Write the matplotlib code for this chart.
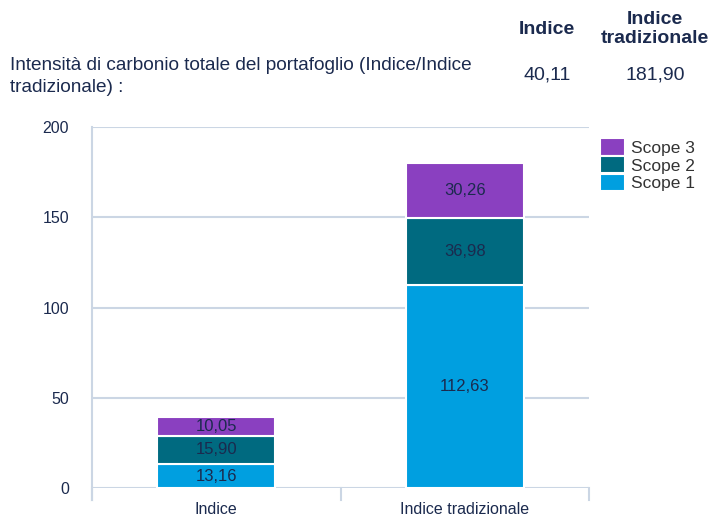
import matplotlib
matplotlib.use("Agg")
import matplotlib.pyplot as plt
from matplotlib.lines import Line2D
import matplotlib.transforms as mtransforms

categories = ["Indice", "Indice tradizionale"]
scope1 = [13.16, 112.63]
scope2 = [15.90, 36.98]
scope3 = [10.05, 30.26]
totals_text = ["40,11", "181,90"]
yticks = [0, 50, 100, 150, 200]

navy = "#1B2A4E"
c1 = "#009FE0"
c2 = "#006A80"
c3 = "#8A40C0"
grid_c = "#CBD6E4"

plt.rcParams['font.family'] = ['Liberation Sans', 'DejaVu Sans']

fig = plt.figure(figsize=(7.09, 5.17), dpi=100)
ax = fig.add_axes([92/709, 29/517, (589-92)/709, (488-127)/517])

x = [0, 1]
w = 0.475
series = [("Scope 1", scope1, c1), ("Scope 2", scope2, c2), ("Scope 3", scope3, c3)]
bottom = [0.0, 0.0]
handles = []
for name, vals, col in series:
    bars = ax.bar(x, vals, w, bottom=bottom, color=col, edgecolor="white",
                  linewidth=1.5, label=name, zorder=3)
    handles.append(bars)
    for xi, v, b in zip(x, vals, bottom):
        ax.text(xi, b + v/2, f"{v:.2f}".replace(".", ","), ha="center", va="center",
                fontsize=12, color=navy, zorder=4)
    bottom = [b + v for b, v in zip(bottom, vals)]

ax.set_xlim(-0.5, 1.5)
ax.set_ylim(0, 200)
ax.set_yticks(yticks)
ax.set_yticklabels([str(t) for t in yticks], fontsize=11.5, color=navy)
ax.yaxis.grid(True, color=grid_c, linewidth=1.5, zorder=0)
ax.set_xticks(x)
ax.set_xticklabels(categories, fontsize=11.5, color=navy)
ax.tick_params(axis="x", length=0, pad=10)
ax.tick_params(axis="y", length=0, pad=16.5)
for s in ax.spines.values():
    s.set_visible(False)

# axis line and category separators
trans = mtransforms.blended_transform_factory(ax.transData, ax.transAxes)
ax.add_line(Line2D([-0.5, -0.5], [-12/361, 1.0], transform=trans, color=grid_c,
                   linewidth=1.5, clip_on=False, zorder=2))
for xs in [-0.5, 0.5, 1.5]:
    ax.add_line(Line2D([xs, xs], [-12/361, 0], transform=trans, color=grid_c,
                       linewidth=1.5, clip_on=False, zorder=2))

leg = ax.legend([handles[2], handles[1], handles[0]], ["Scope 3", "Scope 2", "Scope 1"],
                loc="upper left", bbox_to_anchor=(1.0, 1.0), frameon=False,
                fontsize=12.5, handlelength=1.4, handleheight=1.15, handletextpad=0.35,
                labelspacing=0.02, borderaxespad=0.25)
for t in leg.get_texts():
    t.set_color("#333333")

# header
fig.text(10/709, 1-66/517, "Intensità di carbonio totale del portafoglio (Indice/Indice",
         fontsize=13.7, color=navy, va="center", ha="left")
fig.text(10/709, 1-88/517, "tradizionale) :", fontsize=13.7, color=navy, va="center", ha="left")
fig.text(547/709, 1-30/517, "Indice", fontsize=14, color=navy, va="center", ha="center",
         fontweight="bold")
fig.text(655/709, 1-29/517, "Indice\ntradizionale", fontsize=14, color=navy, va="center",
         ha="center", fontweight="bold", linespacing=1.15)
fig.text(547/709, 1-75/517, totals_text[0], fontsize=14, color=navy, va="center", ha="center")
fig.text(655/709, 1-75/517, totals_text[1], fontsize=14, color=navy, va="center", ha="center")

fig.savefig("out.png", dpi=100)
